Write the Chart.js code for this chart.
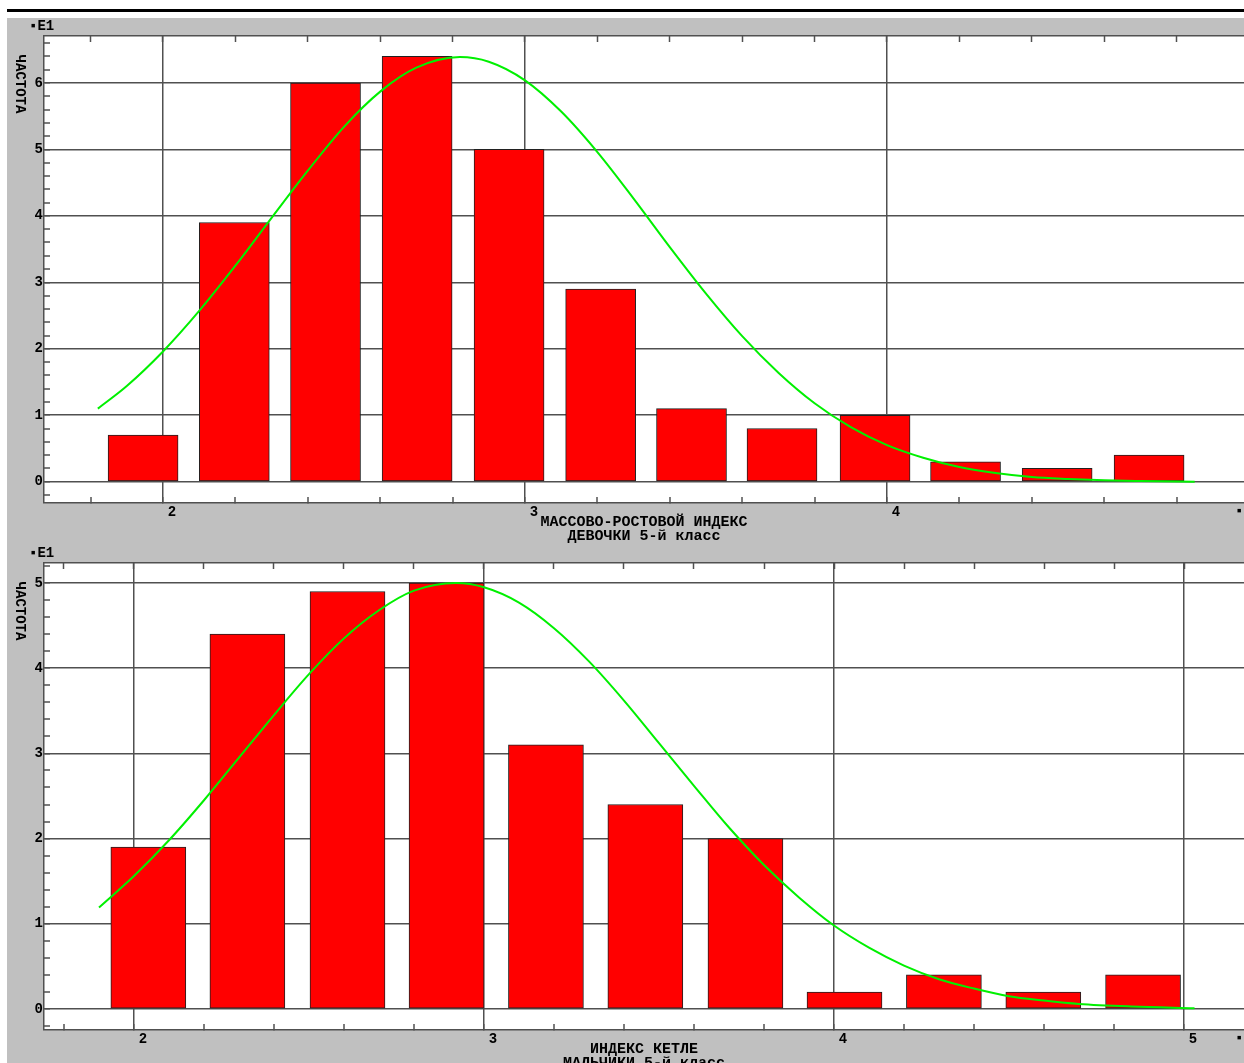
<!DOCTYPE html>
<html>
<head>
<meta charset="utf-8">
<script src="https://cdn.jsdelivr.net/npm/chart.js@4.4.1/dist/chart.umd.min.js"></script>
<style>
  body { margin: 0; background: #fff; overflow: hidden; width: 1244px; height: 1063px; position: relative; }
  #rule { position: absolute; left: 7px; top: 9px; width: 1237px; height: 3px; background: #000; }
  #panel { position: absolute; left: 7px; top: 18px; width: 1237px; height: 1045px; background: #c0c0c0; }
  canvas { position: absolute; left: 0; }
</style>
</head>
<body>
<div id="rule"></div>
<div id="panel"></div>
<canvas id="girls" width="1244" height="530" style="top:18px"></canvas>
<canvas id="boys" width="1244" height="540" style="top:540px"></canvas>
<script>
// frequencies are in tens (*E1 on the axis)

// girls, 5th grade
const girlsBins = [1.945, 2.197, 2.449, 2.702, 2.956, 3.209, 3.46, 3.71, 3.967, 4.217, 4.47, 4.724];
const girlsFreq = [0.7, 3.9, 6.0, 6.4, 5.0, 2.9, 1.1, 0.8, 1.0, 0.3, 0.2, 0.4];
const girlsCurveX = [1.82, 1.90, 2.00, 2.10, 2.20, 2.30, 2.40, 2.50, 2.60, 2.70, 2.82, 2.90, 3.00, 3.10,
  3.20, 3.30, 3.40, 3.50, 3.60, 3.70, 3.80, 3.90, 4.00, 4.10, 4.20, 4.30, 4.40, 4.50, 4.60, 4.70, 4.85];
const girlsCurveY = [1.10, 1.44, 1.96, 2.57, 3.25, 3.97, 4.68, 5.34, 5.87, 6.23, 6.39, 6.32, 6.04, 5.57,
  4.96, 4.26, 3.53, 2.83, 2.19, 1.64, 1.18, 0.82, 0.55, 0.36, 0.22, 0.13, 0.07, 0.04, 0.02, 0.01, 0.00];
const girlsXLabels = [2, 3, 4];
const girlsYLabels = [0, 1, 2, 3, 4, 5, 6];
const girlsTitle = ['МАССОВО-РОСТОВОЙ ИНДЕКС', 'ДЕВОЧКИ 5-й класс'];

// boys, 5th grade
const boysBins = [2.041, 2.324, 2.61, 2.893, 3.177, 3.461, 3.747, 4.03, 4.314, 4.598, 4.883];
const boysFreq = [1.9, 4.4, 4.9, 5.0, 3.1, 2.4, 2.0, 0.2, 0.4, 0.2, 0.4];
const boysCurveX = [1.90, 2.00, 2.10, 2.20, 2.30, 2.40, 2.50, 2.60, 2.70, 2.80, 2.92, 3.00, 3.10, 3.20,
  3.30, 3.40, 3.50, 3.60, 3.70, 3.80, 3.90, 4.00, 4.10, 4.20, 4.30, 4.40, 4.50, 4.60, 4.70, 4.85, 5.03];
const boysCurveY = [1.19, 1.56, 1.98, 2.45, 2.95, 3.45, 3.93, 4.35, 4.68, 4.91, 5.00, 4.95, 4.77, 4.47,
  4.08, 3.62, 3.12, 2.62, 2.13, 1.69, 1.31, 0.98, 0.72, 0.51, 0.35, 0.24, 0.15, 0.10, 0.06, 0.03, 0.01];
const boysXLabels = [2, 3, 4, 5];
const boysYLabels = [0, 1, 2, 3, 4, 5];
const boysTitle = ['ИНДЕКС КЕТЛЕ', 'МАЛЬЧИКИ 5-й класс'];

const yTitle = 'ЧАСТОТА';
const scaleNote = '▪E1';

const FONT = 'Liberation Mono';
const GRID = '#505050';

const isMajor = v => Math.abs(v - Math.round(v)) < 1e-6;

// tick marks every 0.2 inside the plot
function minorTicks(scale) {
  const out = [];
  for (let k = Math.ceil(scale.min * 5 - 1e-6); k / 5 <= scale.max + 1e-9; k++) {
    out.push({ value: Math.round(k * 2) / 10 });
  }
  scale.ticks = out;
}

const decor = {
  id: 'decor',
  beforeDraw(chart) {
    const { ctx, chartArea: a } = chart;
    ctx.save();
    ctx.fillStyle = '#fff';
    ctx.fillRect(a.left, a.top, a.width, a.height);
    ctx.restore();
  },
  afterDraw(chart) {
    const { ctx, chartArea: a } = chart;
    ctx.save();
    ctx.fillStyle = '#000';
    ctx.font = 'bold 14px "' + FONT + '"';
    ctx.textBaseline = 'middle';
    ctx.textAlign = 'left';
    ctx.fillText(scaleNote, 29, a.top - 10);
    ctx.fillText('▪', 1235, a.bottom + 8);
    ctx.translate(20, a.top + 48);
    ctx.rotate(Math.PI / 2);
    ctx.textAlign = 'center';
    ctx.fillText(yTitle, 0, 0);
    ctx.restore();
  }
};

function buildChart(id, o) {
  const tickFont = { family: FONT, size: 14, weight: 'bold' };
  const grid = {
    offset: false,
    color: c => isMajor(c.tick.value) ? GRID : 'transparent',
    lineWidth: c => isMajor(c.tick.value) ? 1.5 : 0,
    tickColor: GRID,
    tickWidth: 1.5,
    tickLength: -6
  };
  const border = { color: GRID, width: 1.5 };
  const label = list => v => (isMajor(v) && list.includes(Math.round(v))) ? String(Math.round(v)) : '';

  new Chart(document.getElementById(id), {
    type: 'bar',
    data: {
      datasets: [
        {
          type: 'line',
          order: 0,
          data: o.curveX.map((x, i) => ({ x: x, y: o.curveY[i] })),
          borderColor: '#00f000',
          borderWidth: 2,
          pointRadius: 0,
          fill: false,
          cubicInterpolationMode: 'monotone'
        },
        {
          type: 'bar',
          order: 1,
          data: o.bins.map((x, i) => ({ x: x, y: o.freq[i] })),
          backgroundColor: '#ff0000',
          borderColor: '#202020',
          borderWidth: 1,
          borderSkipped: false,
          barThickness: o.barW
        }
      ]
    },
    options: {
      responsive: false,
      animation: false,
      events: [],
      layout: { padding: 0 },
      plugins: { legend: { display: false }, tooltip: { enabled: false } },
      scales: {
        x: {
          type: 'linear',
          position: 'bottom',
          min: o.xMin,
          max: o.xMax,
          offset: false,
          afterBuildTicks: minorTicks,
          afterFit: s => { s.height = o.bottomH; },
          grid: grid,
          border: border,
          ticks: {
            autoSkip: false, maxRotation: 0, includeBounds: false,
            padding: 7, labelOffset: 9, color: '#000', font: tickFont,
            callback: label(o.xLabels)
          },
          title: {
            display: true,
            text: o.title,
            color: '#000',
            font: { family: FONT, size: 15, weight: 'bold', lineHeight: '14px' },
            padding: { top: 0, bottom: o.titlePad }
          }
        },
        xTop: {
          type: 'linear',
          position: 'top',
          min: o.xMin,
          max: o.xMax,
          offset: false,
          afterBuildTicks: minorTicks,
          afterFit: s => { s.height = o.topH; },
          grid: { offset: false, drawOnChartArea: false, tickColor: GRID, tickWidth: 1.5, tickLength: -6 },
          border: border,
          ticks: { display: false, autoSkip: false, includeBounds: false }
        },
        y: {
          type: 'linear',
          min: o.yMin,
          max: o.yMax,
          afterBuildTicks: minorTicks,
          afterFit: s => { s.width = 44; },
          grid: grid,
          border: border,
          ticks: {
            autoSkip: false, includeBounds: false,
            padding: 7, color: '#000', font: tickFont,
            callback: label(o.yLabels)
          }
        }
      }
    },
    plugins: [decor]
  });
}

buildChart('girls', {
  bins: girlsBins, freq: girlsFreq, curveX: girlsCurveX, curveY: girlsCurveY,
  xLabels: girlsXLabels, yLabels: girlsYLabels, title: girlsTitle,
  xMin: 1.6713, xMax: 4.9862, yMin: -0.3205, yMax: 6.707,
  barW: 70, topH: 18, bottomH: 45, titlePad: 5
});

buildChart('boys', {
  bins: boysBins, freq: boysFreq, curveX: boysCurveX, curveY: boysCurveY,
  xLabels: boysXLabels, yLabels: boysYLabels, title: boysTitle,
  xMin: 1.7429, xMax: 5.1714, yMin: -0.2465, yMax: 5.2347,
  barW: 75, topH: 23, bottomH: 50, titlePad: 9.5
});
</script>
</body>
</html>
